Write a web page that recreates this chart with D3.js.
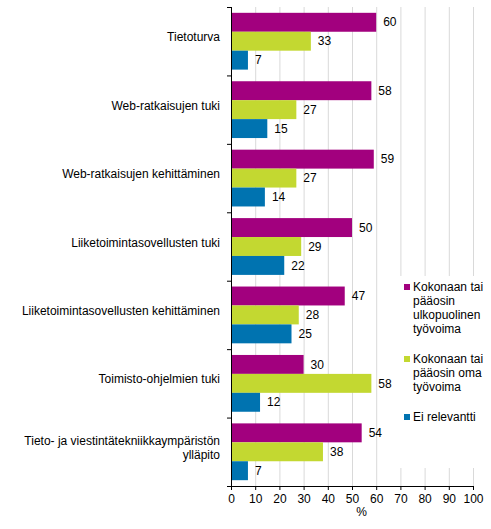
<!DOCTYPE html>
<html>
<head>
<meta charset="utf-8">
<script src="https://cdn.jsdelivr.net/npm/d3@7"></script>
<style>
  body { margin: 0; background: #fff; }
  text { font-family: "Liberation Sans", Arial, sans-serif; font-size: 12px; fill: #000; }
</style>
</head>
<body>
<div id="chart"></div>
<script>
// chart data
var categories = [
  ["Tietoturva"],
  ["Web-ratkaisujen tuki"],
  ["Web-ratkaisujen kehittäminen"],
  ["Liiketoimintasovellusten tuki"],
  ["Liiketoimintasovellusten kehittäminen"],
  ["Toimisto-ohjelmien tuki"],
  ["Tieto- ja viestintätekniikkaympäristön", "ylläpito"]
];
var seriesNames = [
  ["Kokonaan tai", "pääosin", "ulkopuolinen", "työvoima"],
  ["Kokonaan tai", "pääosin oma", "työvoima"],
  ["Ei relevantti"]
];
var external = [60, 58, 59, 50, 47, 30, 54];
var own = [33, 27, 27, 29, 28, 58, 38];
var notRelevant = [7, 15, 14, 22, 25, 12, 7];
var xTicks = [0, 10, 20, 30, 40, 50, 60, 70, 80, 90, 100];

var colors = ["#a2007e", "#c3d831", "#0073b0"];
var series = [external, own, notRelevant];

var svgWidth = 491;
var svgHeight = 529;
var margin = { top: 7, right: 18, bottom: 43, left: 231 };
var width = svgWidth - margin.left - margin.right;
var height = svgHeight - margin.top - margin.bottom;

var svg = d3.select("#chart")
  .append("svg")
  .attr("width", svgWidth)
  .attr("height", svgHeight);

var chartGroup = svg.append("g")
  .attr("transform", `translate(${margin.left}, ${margin.top})`);

var x = d3.scaleLinear().domain([0, 100]).range([0, width]);

var y = d3.scaleBand()
  .domain(d3.range(categories.length))
  .range([0, height])
  .paddingInner(0.17)
  .paddingOuter(0.085);

var ySub = d3.scaleBand()
  .domain(d3.range(series.length))
  .range([0, y.bandwidth()]);

// gridlines
chartGroup.append("g")
  .selectAll("line")
  .data(xTicks.slice(1))
  .enter()
  .append("line")
  .attr("x1", d => x(d) + 0.5)
  .attr("x2", d => x(d) + 0.5)
  .attr("y1", 0)
  .attr("y2", height)
  .attr("stroke", "#d9d9d9")
  .attr("stroke-width", 1);

// bars
series.forEach(function(values, s) {
  var g = chartGroup.append("g");
  g.selectAll("rect")
    .data(values)
    .enter()
    .append("rect")
    .attr("x", 0)
    .attr("y", (d, i) => y(i) + ySub(s))
    .attr("width", d => x(d))
    .attr("height", ySub.bandwidth())
    .attr("fill", colors[s]);

  g.selectAll("text")
    .data(values)
    .enter()
    .append("text")
    .attr("x", d => x(d) + 7)
    .attr("y", (d, i) => y(i) + ySub(s) + ySub.bandwidth() / 2)
    .attr("dy", "0.35em")
    .text(d => d);
});

// category labels
var catLabels = chartGroup.append("g")
  .selectAll("text")
  .data(categories)
  .enter()
  .append("text")
  .attr("text-anchor", "end")
  .attr("x", -11)
  .attr("y", (d, i) => y(i) + y.bandwidth() / 2)
  .attr("dy", "0.35em");

catLabels.each(function(lines) {
  var t = d3.select(this);
  lines.forEach(function(line, j) {
    t.append("tspan")
      .attr("x", -11)
      .attr("dy", j === 0 ? (-(lines.length - 1) * 13.5 / 2) + "px" : "13.5px")
      .text(line);
  });
});

// x axis
var bottomAxis = d3.axisBottom(x)
  .tickValues(xTicks)
  .tickSize(4)
  .tickPadding(4);

var xAxis = chartGroup.append("g")
  .attr("transform", `translate(0, ${height})`)
  .call(bottomAxis);
xAxis.selectAll("text").style("font-size", "12px").attr("fill", "#000");
xAxis.selectAll("line, path").attr("stroke", "#000");
xAxis.select(".domain").attr("d", `M0.5,0.5H${width + 0.5}`);

// y axis, ticks at band boundaries
var yEdge = d3.scaleLinear().domain([0, categories.length]).range([0, height]);
var leftAxis = d3.axisLeft(yEdge)
  .tickValues(d3.range(categories.length + 1))
  .tickSize(4)
  .tickFormat("");

var yAxis = chartGroup.append("g").call(leftAxis);
yAxis.selectAll("line, path").attr("stroke", "#000");
yAxis.select(".domain").attr("d", `M0.5,0V${height}`);

// axis title
chartGroup.append("text")
  .attr("x", x(54))
  .attr("y", height + 30)
  .attr("text-anchor", "middle")
  .text("%");

// legend
var legend = svg.append("g");
legend.append("rect")
  .attr("x", 398)
  .attr("y", 276)
  .attr("width", 93)
  .attr("height", 192)
  .attr("fill", "#fff");

var legendTop = [287, 359, 417];
seriesNames.forEach(function(lines, s) {
  var item = legend.append("g");
  item.append("rect")
    .attr("x", 404)
    .attr("y", legendTop[s] - 3)
    .attr("width", 6)
    .attr("height", 6)
    .attr("fill", colors[s]);
  var t = item.append("text")
    .attr("x", 413)
    .attr("y", legendTop[s])
    .attr("dy", "0.35em");
  lines.forEach(function(line, j) {
    t.append("tspan")
      .attr("x", 413)
      .attr("dy", j === 0 ? "0.35em" : "14px")
      .text(line);
  });
});
</script>
</body>
</html>
